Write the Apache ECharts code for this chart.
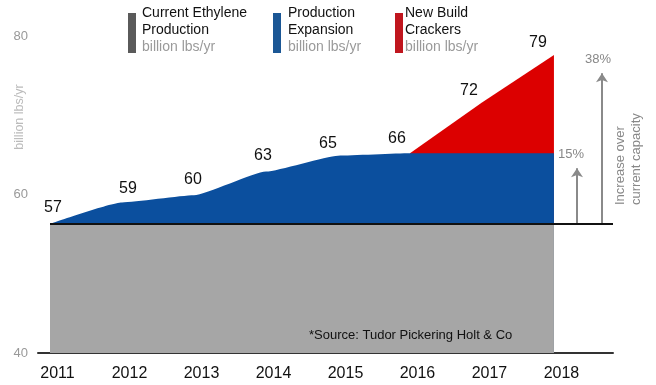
<!DOCTYPE html>
<html>
<head>
<meta charset="utf-8">
<script src="https://cdn.jsdelivr.net/npm/echarts@6/dist/echarts.min.js"></script>
<style>
html,body{margin:0;padding:0;background:#fff;}
#c{width:656px;height:385px;}
</style>
</head>
<body>
<div id="c"></div>
<script>
// ---- data ----
var years = ['2011','2012','2013','2014','2015','2016','2017','2018'];
var currentProduction = [56.3, 56.3, 56.3, 56.3, 56.3, 56.3, 56.3, 56.3];
var expansionTotal = [56.3, 59.0, 59.9, 62.9, 64.9, 65.2, 65.2, 65.2];
var newBuildTotal = [null, null, null, null, null, 65.2, 71.6, 77.6];
var totalLabels = ['57', '59', '60', '63', '65', '66', '72', '79'];
var yTicks = [40, 60, 80];
var increaseLabels = ['15%', '38%'];
var increaseTops = [63.3, 75.3];

// ---- styling (not data) ----
var FONT = '"Liberation Sans", Arial, sans-serif';
var labelNudge = [[3,-8],[6,-5],[-1,-7],[-3,-7],[-10,-4],[-13,-6],[-13,-3],[-16,-4]];
var xMin = -0.1667, xMax = 7.82;
var arrowX = [7.32, 7.667];

function pts(arr, labelIdx) {
  var out = [];
  for (var i = 0; i < arr.length; i++) {
    if (arr[i] == null) continue;
    var item = { value: [i, arr[i]] };
    if (labelIdx.indexOf(i) >= 0) {
      item.label = {
        show: true, position: 'top', distance: 0,
        offset: labelNudge[i], formatter: totalLabels[i],
        fontSize: 16, color: '#111', fontFamily: FONT
      };
    }
    out.push(item);
  }
  return out;
}

var hiddenSymbol = {
  symbol: 'circle', symbolSize: 1, showSymbol: true, showAllSymbol: true,
  itemStyle: { color: 'rgba(0,0,0,0)', borderWidth: 0 }
};

var chart = echarts.init(document.getElementById('c'), null, {renderer: 'canvas'});
var option = {
  animation: false,
  backgroundColor: '#fff',
  textStyle: { fontFamily: FONT },
  grid: { left: 38, right: 43, top: 36, bottom: 32, containLabel: false, outerBoundsMode: 'none' },
  xAxis: {
    type: 'value', min: xMin, max: xMax, splitNumber: 8, minInterval: 1, maxInterval: 1,
    axisLine: { show: true, onZero: false, lineStyle: { color: '#333', width: 2 } },
    axisTick: { show: false }, splitLine: { show: false },
    axisLabel: {
      fontSize: 16, color: '#111', margin: 13, padding: [0, 0, 0, 15],
      showMinLabel: false, showMaxLabel: false,
      formatter: function (v) { return (Math.abs(v - Math.round(v)) < 1e-6 && years[Math.round(v)]) ? years[Math.round(v)] : ''; }
    }
  },
  yAxis: {
    type: 'value', min: yTicks[0], max: yTicks[yTicks.length - 1], interval: 20,
    axisLine: { show: false }, axisTick: { show: false }, splitLine: { show: false },
    axisLabel: { fontSize: 13, color: '#999', margin: 10 }
  },
  series: [
    Object.assign({
      name: 'New Build Crackers', type: 'line', data: pts(newBuildTotal, [6, 7]),
      lineStyle: { width: 0 }, areaStyle: { color: '#dc0000', opacity: 1 }, z: 2
    }, hiddenSymbol),
    Object.assign({
      name: 'Production Expansion', type: 'line', data: pts(expansionTotal, [0,1,2,3,4,5]),
      smooth: 0.15, smoothMonotone: 'x',
      lineStyle: { width: 0 }, areaStyle: { color: '#0b4f9e', opacity: 1 }, z: 3,
      markLine: {
        silent: true, symbol: ['none', 'arrow'], symbolSize: 9,
        lineStyle: { color: '#8a8a8a', width: 2, type: 'solid' },
        label: { show: true, position: 'end', distance: 7, color: '#888', fontSize: 13, fontFamily: FONT },
        data: [
          [{ coord: [arrowX[0], currentProduction[7]] }, { coord: [arrowX[0], increaseTops[0]], label: { formatter: increaseLabels[0], padding: [0, 12, 0, 0] } }],
          [{ coord: [arrowX[1], currentProduction[7]] }, { coord: [arrowX[1], increaseTops[1]], label: { formatter: increaseLabels[1], padding: [0, 8, 0, 0] } }]
        ]
      }
    }, hiddenSymbol),
    {
      name: 'Current Ethylene Production', type: 'line', data: pts(currentProduction, []),
      symbol: 'none', lineStyle: { width: 0 }, areaStyle: { color: '#a6a6a6', opacity: 1 }, z: 4,
      markLine: {
        silent: true, symbol: 'none',
        lineStyle: { color: '#111', width: 2, type: 'solid' },
        label: { show: false },
        data: [[{ coord: [0, currentProduction[0]] }, { coord: [xMax, currentProduction[0]] }]]
      }
    }
  ],
  graphic: [
    { type: 'rect', z: 100, left: 128, top: 13, shape: { width: 8, height: 40 }, style: { fill: '#5a5a5a' } },
    { type: 'text', z: 100, left: 142, top: 6, style: { text: '{a|Current Ethylene}\n{a|Production}\n{b|billion lbs/yr}', rich: { a: { fontSize: 14, fill: '#111', lineHeight: 17, fontFamily: FONT }, b: { fontSize: 14, fill: '#9a9a9a', lineHeight: 17, fontFamily: FONT } } } },
    { type: 'rect', z: 100, left: 273, top: 13, shape: { width: 8, height: 40 }, style: { fill: '#1b5795' } },
    { type: 'text', z: 100, left: 288, top: 6, style: { text: '{a|Production}\n{a|Expansion}\n{b|billion lbs/yr}', rich: { a: { fontSize: 14, fill: '#111', lineHeight: 17, fontFamily: FONT }, b: { fontSize: 14, fill: '#9a9a9a', lineHeight: 17, fontFamily: FONT } } } },
    { type: 'rect', z: 100, left: 395, top: 13, shape: { width: 8, height: 40 }, style: { fill: '#c0161e' } },
    { type: 'text', z: 100, left: 405, top: 6, style: { text: '{a|New Build}\n{a|Crackers}\n{b|billion lbs/yr}', rich: { a: { fontSize: 14, fill: '#111', lineHeight: 17, fontFamily: FONT }, b: { fontSize: 14, fill: '#9a9a9a', lineHeight: 17, fontFamily: FONT } } } },
    { type: 'text', z: 100, x: 20, y: 117, rotation: Math.PI / 2, style: { text: 'billion lbs/yr', fontSize: 12.5, fill: '#bbb', align: 'center', verticalAlign: 'middle', fontFamily: FONT } },
    { type: 'text', z: 100, x: 628, y: 205, rotation: Math.PI / 2, style: { text: 'Increase over\ncurrent capacity', fontSize: 13, lineHeight: 16, fill: '#888', align: 'left', verticalAlign: 'middle', fontFamily: FONT } },
    { type: 'text', z: 100, x: 309, y: 335, style: { text: '*Source: Tudor Pickering Holt & Co', fontSize: 13, fill: '#111', align: 'left', verticalAlign: 'middle', fontFamily: FONT } }
  ]
};
chart.setOption(option);
</script>
</body>
</html>
